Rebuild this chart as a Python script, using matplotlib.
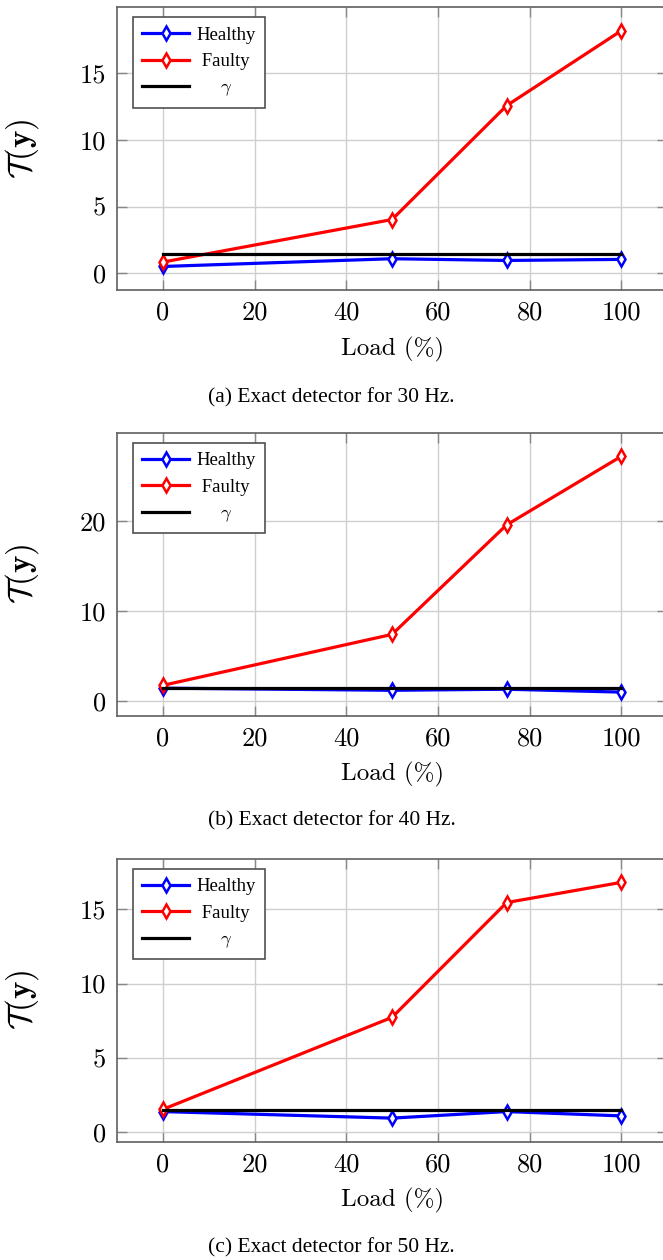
# Exact detector: test statistic vs load, three frequencies

import matplotlib
matplotlib.use('Agg')
import matplotlib.pyplot as plt

plt.rcParams['mathtext.fontset'] = 'cm'
plt.rcParams['axes.unicode_minus'] = False

load = [0, 50, 75, 100]
gamma = 1.45

healthy_30 = [0.52, 1.1, 0.97, 1.05]
faulty_30 = [0.85, 4.03, 12.55, 18.15]

healthy_40 = [1.44, 1.2, 1.32, 1.0]
faulty_40 = [1.75, 7.4, 19.55, 27.15]

healthy_50 = [1.37, 0.93, 1.37, 1.08]
faulty_50 = [1.52, 7.72, 15.46, 16.82]

yticks_30 = [0, 5, 10, 15]
yticks_40 = [0, 10, 20]
yticks_50 = [0, 5, 10, 15]
xticks = [0, 20, 40, 60, 80, 100]

captions = ['(a) Exact detector for 30 Hz.',
            '(b) Exact detector for 40 Hz.',
            '(c) Exact detector for 50 Hz.']

panels = [(healthy_30, faulty_30, yticks_30),
          (healthy_40, faulty_40, yticks_40),
          (healthy_50, faulty_50, yticks_50)]

fig = plt.figure(figsize=(6.63, 12.6), dpi=100)

# axes boxes in figure fractions (right edge runs just past the page)
bottoms = [0.7698, 0.4320, 0.0939]
caption_y = [1 - 398/1260, 1 - 821/1260, 1 - 1248/1260]

for i, (healthy, faulty, yt) in enumerate(panels):
    ax = fig.add_axes([0.1765, bottoms[i], 0.8296, 0.2245])

    ax.plot(load, healthy, color='blue', lw=2.3, marker='d', ms=7,
            mfc='white', mec='blue', mew=1.8, label='Healthy', zorder=3)
    ax.plot(load, faulty, color='red', lw=2.3, marker='d', ms=7,
            mfc='white', mec='red', mew=1.8, label=' Faulty', zorder=3)
    ax.plot([load[0], load[-1]], [gamma, gamma], color='black', lw=2.3,
            label='     $\\gamma$', zorder=3)

    ax.margins(x=0.1, y=0.1)
    ax.set_xticks(xticks)
    ax.set_yticks(yt)
    ax.grid(True, color='#cfcfcf', lw=1.0)
    ax.set_axisbelow(True)

    for s in ax.spines.values():
        s.set_color('#606060')
        s.set_linewidth(1.2)
    ax.tick_params(direction='in', length=7, width=1, color='#888888',
                   top=True, right=True, pad=8, labelsize=19)
    for lab in ax.get_xticklabels() + ax.get_yticklabels():
        lab.set_family('cmr10')

    ax.set_xlabel('Load (%)', fontsize=18, family='cmr10')
    ax.xaxis.set_label_coords(0.5, -0.165)
    ax.set_ylabel('$\\mathcal{T}(\\mathbf{y})$', fontsize=24)
    ax.yaxis.set_label_coords(-0.138, 0.5)

    leg = ax.legend(loc='upper left', bbox_to_anchor=(0.029, 0.965),
                    borderaxespad=0, fancybox=False, framealpha=1,
                    edgecolor='#505050', handlelength=2.5, handletextpad=0.4,
                    labelspacing=0.5, borderpad=0.5,
                    prop={'family': 'Liberation Serif', 'size': 13.5})
    leg.get_frame().set_linewidth(1.2)

    fig.text(0.5, caption_y[i], captions[i], ha='center', va='center',
             fontsize=15.5, family='Liberation Serif')

fig.savefig('out.png', dpi=100)
